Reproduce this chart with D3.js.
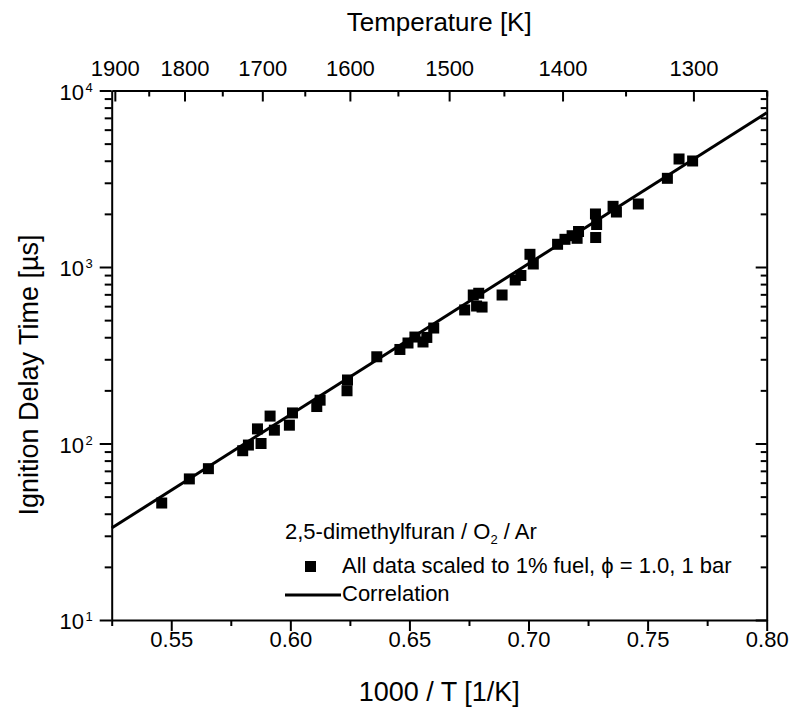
<!DOCTYPE html>
<html>
<head>
<meta charset="utf-8">
<script src="https://cdn.jsdelivr.net/npm/d3@7"></script>
<style>
  html, body { margin: 0; padding: 0; background: #fff; }
  text { font-family: "Liberation Sans", Arial, Helvetica, sans-serif; fill: #000; }
</style>
</head>
<body>
<script>
// ---- data ----
const invT = [0.5460, 0.5576, 0.5656, 0.5800, 0.5824, 0.5862, 0.5877, 0.5915, 0.5933, 0.5996,
              0.6009, 0.6111, 0.6125, 0.6240, 0.6238, 0.6363, 0.6460, 0.6494, 0.6523, 0.6557,
              0.6573, 0.6602, 0.6732, 0.6768, 0.6791, 0.6782, 0.6805, 0.6889, 0.6944, 0.6968,
              0.7006, 0.7020, 0.7122, 0.7153, 0.7183, 0.7204, 0.7210, 0.7281, 0.7286, 0.7282,
              0.7355, 0.7369, 0.7461, 0.7583, 0.7632, 0.7689];
const tau  = [46, 63, 72, 91, 98, 121, 100, 143, 119, 127,
              149, 162, 176, 229, 199, 310, 341, 371, 401, 376,
              399, 451, 571, 694, 710, 601, 593, 694, 844, 895,
              1180, 1040, 1345, 1435, 1504, 1454, 1589, 1997, 1741, 1469,
              2207, 2049, 2275, 3180, 4092, 3987];
const corrX = [0.525, 0.80];
const corrY = [33.2, 7485];

const xMajor = [0.55, 0.60, 0.65, 0.70, 0.75, 0.80];
const xMinor = [0.525, 0.575, 0.625, 0.675, 0.725, 0.775];
const yMajor = [10, 100, 1000, 10000];
const yMinor = [20,30,40,50,60,70,80,90,200,300,400,500,600,700,800,900,2000,3000,4000,5000,6000,7000,8000,9000];
const tMajor = [1900, 1800, 1700, 1600, 1500, 1400, 1300];
const tMinor = [1850, 1750, 1650, 1550, 1450, 1350, 1250];

const legendTitle = "2,5-dimethylfuran / O";
const legendData = "All data scaled to 1% fuel, \u03D5 = 1.0, 1 bar";
const legendLine = "Correlation";

// ---- layout ----
const W = 800, H = 716;
const L = 111.7, R = 766.7, T = 90.5, B = 620;

const svg = d3.select("body").append("svg").attr("width", W).attr("height", H);
svg.append("rect").attr("width", W).attr("height", H).attr("fill", "#fff");

const x = d3.scaleLinear().domain([0.525, 0.80]).range([L, R]);
const y = d3.scaleLog().domain([10, 10000]).range([B, T]);

function styleAxis(g, keepDomain) {
  if (!keepDomain) g.select(".domain").remove();
  else g.select(".domain").attr("stroke", "#000").attr("stroke-width", 2);
  g.selectAll(".tick line").attr("stroke", "#000").attr("stroke-width", 2);
  g.selectAll(".tick text").attr("font-size", 22).attr("fill", "#000")
    .attr("font-family", '"Liberation Sans", Arial, sans-serif');
}

// bottom axis
svg.append("g").attr("transform", `translate(0,${B})`)
  .call(d3.axisBottom(x).tickValues(xMajor).tickSize(11).tickSizeOuter(0).tickPadding(0).tickFormat(d3.format(".2f")))
  .call(g => styleAxis(g, true));
svg.append("g").attr("transform", `translate(0,${B})`)
  .call(d3.axisBottom(x).tickValues(xMinor).tickSize(6).tickFormat(""))
  .call(g => styleAxis(g, false));

// top axis (temperature)
svg.append("g").attr("transform", `translate(0,${T})`)
  .call(d3.axisTop(x).tickValues(tMajor.map(t => 1000 / t)).tickSize(-11).tickSizeOuter(0).tickPadding(15)
        .tickFormat(d => Math.round(1000 / d)))
  .call(g => styleAxis(g, true));
svg.append("g").attr("transform", `translate(0,${T})`)
  .call(d3.axisTop(x).tickValues(tMinor.map(t => 1000 / t)).tickSize(-6).tickFormat(""))
  .call(g => styleAxis(g, false));

// left axis
svg.append("g").attr("transform", `translate(${L},0)`)
  .call(d3.axisLeft(y).tickValues(yMajor).tickSize(12).tickSizeOuter(0).tickFormat(""))
  .call(g => styleAxis(g, true));
svg.append("g").attr("transform", `translate(${L},0)`)
  .call(d3.axisLeft(y).tickValues(yMinor).tickSize(7).tickFormat(""))
  .call(g => styleAxis(g, false));

// right axis
svg.append("g").attr("transform", `translate(${R},0)`)
  .call(d3.axisRight(y).tickValues(yMajor).tickSize(-11).tickSizeOuter(0).tickFormat(""))
  .call(g => styleAxis(g, true));
svg.append("g").attr("transform", `translate(${R},0)`)
  .call(d3.axisRight(y).tickValues(yMinor).tickSize(-6).tickFormat(""))
  .call(g => styleAxis(g, false));

// y tick labels 10^n
const yl = svg.append("g");
yMajor.forEach(v => {
  yl.append("text").attr("x", 84).attr("y", y(v) + 9).attr("text-anchor", "end")
    .attr("font-size", 22).text("10");
  yl.append("text").attr("x", 85.5).attr("y", y(v) + 1).attr("text-anchor", "start")
    .attr("font-size", 13).text(Math.round(Math.log10(v)));
});

// axis titles
svg.append("text").attr("x", (L + R) / 2).attr("y", 701).attr("text-anchor", "middle")
  .attr("font-size", 27).text("1000 / T [1/K]");
svg.append("text").attr("x", (L + R) / 2).attr("y", 31).attr("text-anchor", "middle")
  .attr("font-size", 26).text("Temperature [K]");
svg.append("text").attr("transform", "translate(37.5,375) rotate(-90)").attr("text-anchor", "middle")
  .attr("font-size", 27).text("Ignition Delay Time [\u00B5s]");

// correlation line
const line = d3.line().x(d => x(d[0])).y(d => y(d[1]));
svg.append("path").datum(d3.zip(corrX, corrY)).attr("d", line)
  .attr("fill", "none").attr("stroke", "#000").attr("stroke-width", 3);

// data squares
const S = 11;
svg.append("g").selectAll("rect").data(d3.zip(invT, tau)).join("rect")
  .attr("x", d => x(d[0]) - S / 2).attr("y", d => y(d[1]) - S / 2)
  .attr("width", S).attr("height", S).attr("fill", "#000");

// legend
const lg = svg.append("g");
const lt = lg.append("text").attr("x", 285).attr("y", 539).attr("font-size", 22);
lt.append("tspan").text(legendTitle);
lt.append("tspan").attr("font-size", 13).attr("dy", 5).text("2");
lt.append("tspan").attr("dy", -5).text(" / Ar");
lg.append("rect").attr("x", 305).attr("y", 561).attr("width", 11).attr("height", 11).attr("fill", "#000");
lg.append("text").attr("x", 342).attr("y", 573).attr("font-size", 22).text(legendData);
lg.append("line").attr("x1", 285).attr("x2", 341).attr("y1", 595).attr("y2", 595)
  .attr("stroke", "#000").attr("stroke-width", 3);
lg.append("text").attr("x", 342).attr("y", 601).attr("font-size", 22).text(legendLine);
</script>
</body>
</html>
